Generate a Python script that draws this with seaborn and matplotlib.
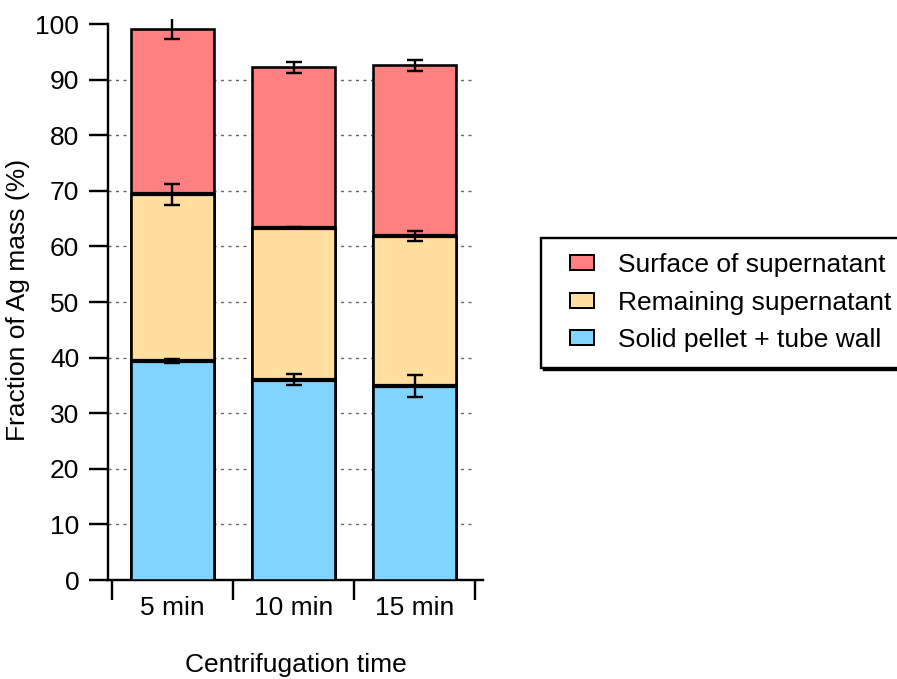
import numpy as np
import pandas as pd
import matplotlib
matplotlib.use("Agg")
import matplotlib.pyplot as plt
from matplotlib.patches import Rectangle
from matplotlib.legend_handler import HandlerPatch
import seaborn as sns

# ---- data ----
categories = ["5 min", "10 min", "15 min"]
solid_pellet = [39.4, 36.0, 34.95]          # Solid pellet + tube wall
remaining_sup = [30.0, 27.4, 26.95]         # Remaining supernatant
surface_sup = [29.7, 28.8, 30.7]            # Surface of supernatant
err_solid = [0.4, 1.0, 2.0]
err_remaining = [1.9, 0.15, 0.95]
err_surface_low = [1.8, 1.0, 1.0]
err_surface_high = [2.3, 1.0, 1.0]
layer_names = ["Surface of supernatant", "Remaining supernatant", "Solid pellet + tube wall"]
layer_colors = ["#FF8080", "#FFDE9E", "#80D4FF"]
yticks = list(range(0, 101, 10))
xlabel = "Centrifugation time"
ylabel = "Fraction of Ag mass (%)"

# ---- cumulative tops ----
top_solid = np.array(solid_pellet)
top_remaining = top_solid + np.array(remaining_sup)
top_surface = top_remaining + np.array(surface_sup)

df = pd.DataFrame({
    "time": categories,
    "surface": top_surface,
    "remaining": top_remaining,
    "solid": top_solid,
})

sns.set_style("ticks")
plt.rcParams["font.family"] = ["Liberation Sans", "DejaVu Sans"]
plt.rcParams["text.color"] = "black"
plt.rcParams["axes.labelcolor"] = "black"
FS = 19
DPI = 100
px = 72.0 / DPI  # points per pixel

fig = plt.figure(figsize=(8.97, 6.79), dpi=DPI)
ax = fig.add_axes([108 / 897, 99 / 679, 375 / 897, 560.7 / 679])

bar_w = 0.69
edge_lw = 2.6 * px
for col, color in zip(["surface", "remaining", "solid"], layer_colors):
    sns.barplot(data=df, x="time", y=col, order=categories, color=color,
                saturation=1, width=bar_w, edgecolor="black", linewidth=edge_lw,
                errorbar=None, ax=ax, zorder=3)

pos = np.arange(len(categories))
# thick internal boundaries between stacked segments
for tops in (top_solid, top_remaining):
    ax.hlines(tops, pos - bar_w / 2, pos + bar_w / 2, color="black",
              linewidth=4.2 * px, zorder=4)

# error bars
for tops, errs in ((top_solid, err_solid), (top_remaining, err_remaining),
                   (top_surface, [err_surface_low, err_surface_high])):
    ax.errorbar(pos, tops, yerr=errs, fmt="none", ecolor="black",
                elinewidth=2.4 * px, capsize=5.8, capthick=2.4 * px, zorder=5)

xl = (-0.533, 2.566)
ax.set_xlim(*xl)
ax.set_ylim(0, 100.85)

# dotted grid lines
ax.hlines(yticks[1:-1], xl[0], 2.5, color="#666666", linewidth=1.0,
          linestyles=(0, (2.2, 3.2)), zorder=1)

# spines
for s in ["top", "right"]:
    ax.spines[s].set_visible(False)
for s in ["left", "bottom"]:
    ax.spines[s].set_linewidth(2.4 * px)
    ax.spines[s].set_color("black")
ax.spines["left"].set_bounds(0, 100)

# y ticks
ax.set_yticks(yticks)
ax.set_yticklabels([str(t) for t in yticks])
ax.tick_params(axis="y", direction="out", length=19 * px, width=2.4 * px,
               labelsize=FS, pad=7, colors="black")

# x ticks: boundary marks (major) and labels (minor)
ax.set_xticks(np.append(pos - 0.5, pos[-1] + 0.5), [""] * (len(pos) + 1))
ax.set_xticks(pos, categories, minor=True)
ax.tick_params(axis="x", which="major", direction="out", length=20 * px,
               width=2.4 * px, colors="black")
ax.tick_params(axis="x", which="minor", length=0, labelsize=FS, pad=11.5,
               colors="black")

ax.set_xlabel(xlabel, fontsize=FS, labelpad=24, color="black")
ax.set_ylabel(ylabel, fontsize=FS, labelpad=4, color="black")

# legend
handles = [Rectangle((0, 0), 1, 1, facecolor=c, edgecolor="black",
                     linewidth=2.0 * px) for c in layer_colors]

def make_patch(legend, orig_handle, xdescent, ydescent, width, height, fontsize):
    return Rectangle((-xdescent + 0.37 * width, -ydescent), 0.63 * width, height)

leg = fig.legend(handles, layer_names, loc="upper left",
                 bbox_to_anchor=(541 / 897, 1 - 238 / 679),
                 bbox_transform=fig.transFigure, borderaxespad=0,
                 fontsize=FS, frameon=True, fancybox=False,
                 shadow={"color": "black", "alpha": 1.0},
                 handlelength=1.43, handleheight=0.5, handletextpad=0.9,
                 labelspacing=0.51, borderpad=0.58,
                 handler_map={Rectangle: HandlerPatch(patch_func=make_patch)})
leg.get_frame().set_edgecolor("black")
leg.get_frame().set_linewidth(2.4 * px)
leg.get_frame().set_facecolor("white")
for t in leg.get_texts():
    t.set_color("black")

fig.savefig("out.png", dpi=DPI)
